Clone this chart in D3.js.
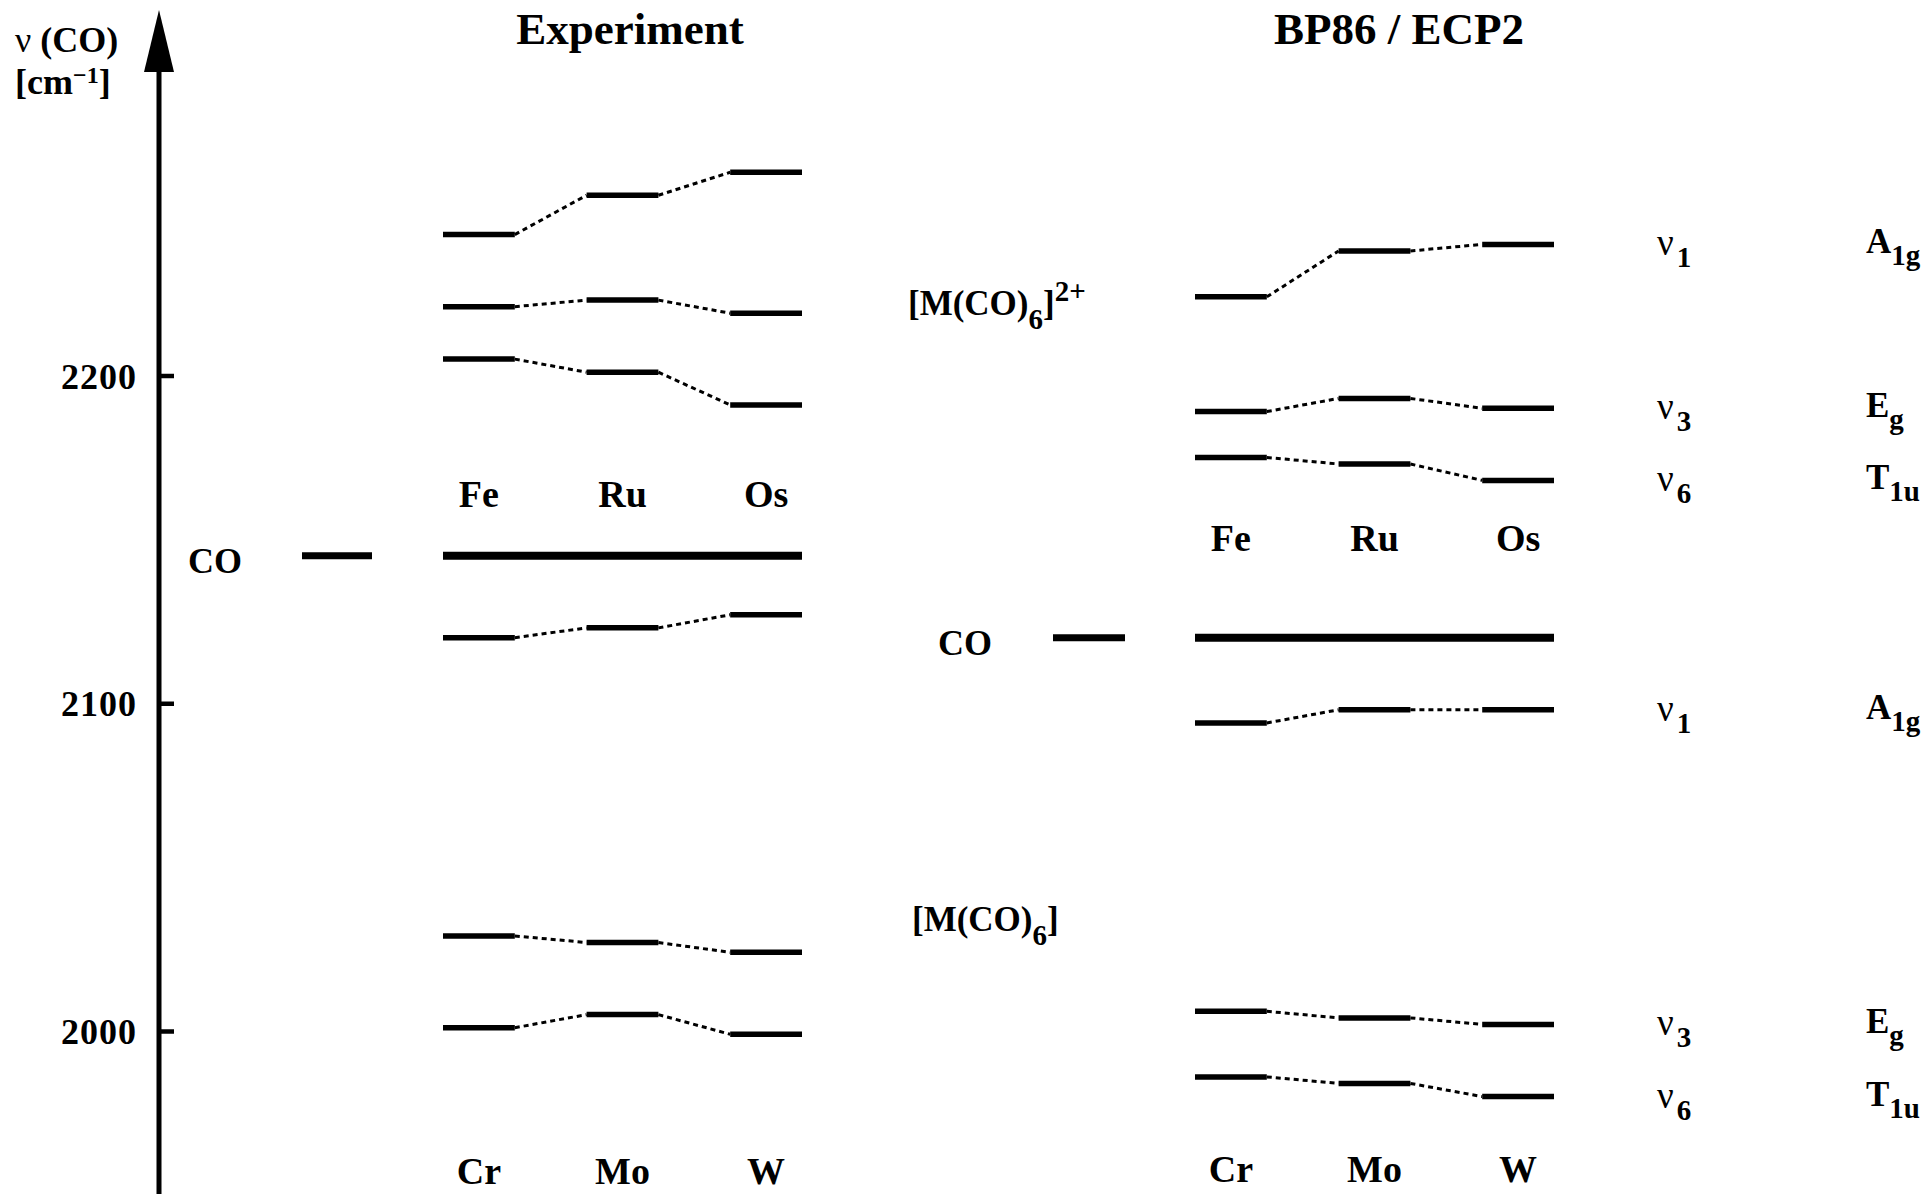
<!DOCTYPE html>
<meta charset="utf-8">
<style>
body { margin: 0; background: #fff; }
text { font-family: "Liberation Serif", "Times New Roman", serif; fill: #000; }
</style>
<body>
<script src="https://cdnjs.cloudflare.com/ajax/libs/d3/7.8.5/d3.min.js"></script>
<script>
// values, in cm^-1
var cations = ["Fe", "Ru", "Os"];
var neutrals = ["Cr", "Mo", "W"];
var modeNames = ["A1g", "Eg", "T1u"];
var nuIndex = ["1", "3", "6"];

var expCationA1g = [2243, 2255, 2262];
var expCationEg = [2221, 2223, 2219];
var expCationT1u = [2205, 2201, 2191];
var expNeutralA1g = [2120, 2123, 2127];
var expNeutralEg = [2029, 2027, 2024];
var expNeutralT1u = [2001, 2005, 1999];

var calcCationA1g = [2224, 2238, 2240];
var calcCationEg = [2189, 2193, 2190];
var calcCationT1u = [2175, 2173, 2168];
var calcNeutralA1g = [2094, 2098, 2098];
var calcNeutralEg = [2006, 2004, 2002];
var calcNeutralT1u = [1986, 1984, 1980];

var coExp = 2145;
var coCalc = 2120;
var yTicks = [2000, 2100, 2200];

var w = 1931, h = 1194;
var axisX = 159;

var svg = d3.select("body").append("svg")
	.attr("width", w)
	.attr("height", h);

var y = d3.scaleLinear().domain([2000, 2200]).range([1031, 375.5]);

var xExp = d3.scaleBand().domain([0, 1, 2]).range([443, 802]).paddingInner(0.5).paddingOuter(0);
var xCalc = d3.scaleBand().domain([0, 1, 2]).range([1195, 1554]).paddingInner(0.5).paddingOuter(0);

// the vertical axis with arrow
svg.append("line")
	.attr("x1", axisX).attr("x2", axisX)
	.attr("y1", h).attr("y2", 68)
	.attr("stroke", "#000").attr("stroke-width", 5);
svg.append("path")
	.attr("d", "M" + axisX + ",10 L" + (axisX - 15) + ",72 L" + (axisX + 15) + ",72 Z")
	.attr("fill", "#000");

var yAxis = d3.axisLeft(y)
	.tickValues(yTicks)
	.tickSize(-15)
	.tickPadding(22)
	.tickFormat(d3.format("d"));
var ga = svg.append("g")
	.attr("transform", "translate(" + axisX + ",0)")
	.call(yAxis);
ga.select(".domain").remove();
ga.selectAll(".tick line").attr("stroke", "#000").attr("stroke-width", 4.5);
ga.selectAll(".tick text")
	.attr("font-family", "Liberation Serif")
	.attr("font-weight", "bold")
	.attr("font-size", 36)
	.attr("dy", "0.35em")
	.attr("letter-spacing", 1);

// axis label
var al = svg.append("text").attr("x", 15).attr("y", 52).attr("font-size", 36);
al.append("tspan").text("\u03bd ");
al.append("tspan").attr("font-weight", "bold").text("(CO)");
var al2 = svg.append("text").attr("x", 15).attr("y", 94).attr("font-size", 36).attr("font-weight", "bold");
al2.append("tspan").text("[cm");
al2.append("tspan").attr("font-size", 24).attr("dy", -11).text("\u22121");
al2.append("tspan").attr("dy", 11).text("]");

// titles
svg.append("text").attr("x", 630).attr("y", 44).attr("text-anchor", "middle")
	.attr("font-size", 45).attr("font-weight", "bold").text("Experiment");
svg.append("text").attr("x", 1399).attr("y", 44).attr("text-anchor", "middle")
	.attr("font-size", 45).attr("font-weight", "bold").text("BP86 / ECP2");

function levelSet(x, values) {
	var g = svg.append("g");
	// dotted connectors
	for (var i = 0; i < values.length - 1; i++) {
		g.append("line")
			.attr("x1", x(i) + x.bandwidth()).attr("y1", y(values[i]))
			.attr("x2", x(i + 1)).attr("y2", y(values[i + 1]))
			.attr("stroke", "#000").attr("stroke-width", 3)
			.attr("stroke-dasharray", "5,4");
	}
	g.selectAll("line.level")
		.data(values)
		.enter().append("line")
		.attr("class", "level")
		.attr("x1", function(d, i) { return x(i); })
		.attr("x2", function(d, i) { return x(i) + x.bandwidth(); })
		.attr("y1", function(d) { return y(d); })
		.attr("y2", function(d) { return y(d); })
		.attr("stroke", "#000").attr("stroke-width", 5.5);
}

function coLine(x, v, x0, x1) {
	svg.append("line")
		.attr("x1", x.range()[0]).attr("x2", x.range()[1])
		.attr("y1", y(v)).attr("y2", y(v))
		.attr("stroke", "#000").attr("stroke-width", 8);
	svg.append("line")
		.attr("x1", x0).attr("x2", x1)
		.attr("y1", y(v)).attr("y2", y(v))
		.attr("stroke", "#000").attr("stroke-width", 7);
}

function catLabels(x, names, baseline) {
	svg.selectAll(null)
		.data(names)
		.enter().append("text")
		.attr("x", function(d, i) { return x(i) + x.bandwidth() / 2; })
		.attr("y", baseline)
		.attr("text-anchor", "middle")
		.attr("font-size", 38).attr("font-weight", "bold")
		.text(function(d) { return d; });
}

[expCationA1g, expCationEg, expCationT1u, expNeutralA1g, expNeutralEg, expNeutralT1u]
	.forEach(function(v) { levelSet(xExp, v); });
[calcCationA1g, calcCationEg, calcCationT1u, calcNeutralA1g, calcNeutralEg, calcNeutralT1u]
	.forEach(function(v) { levelSet(xCalc, v); });

coLine(xExp, coExp, 302, 372);
coLine(xCalc, coCalc, 1053, 1125);

catLabels(xExp, cations, 507);
catLabels(xExp, neutrals, 1184);
catLabels(xCalc, cations, 551);
catLabels(xCalc, neutrals, 1182);

// CO labels
svg.append("text").attr("x", 188).attr("y", y(coExp) + 17)
	.attr("font-size", 36).attr("font-weight", "bold").text("CO");
svg.append("text").attr("x", 938).attr("y", y(coCalc) + 17)
	.attr("font-size", 36).attr("font-weight", "bold").text("CO");

// complex labels
var c1 = svg.append("text").attr("x", 908).attr("y", 315).attr("font-size", 35).attr("font-weight", "bold");
c1.append("tspan").text("[M(CO)");
c1.append("tspan").attr("font-size", 29).attr("dy", 14).text("6");
c1.append("tspan").attr("dy", -14).text("]");
c1.append("tspan").attr("font-size", 29).attr("dy", -14).text("2+");
var c2 = svg.append("text").attr("x", 912).attr("y", 931).attr("font-size", 35).attr("font-weight", "bold");
c2.append("tspan").text("[M(CO)");
c2.append("tspan").attr("font-size", 29).attr("dy", 14).text("6");
c2.append("tspan").attr("dy", -14).text("]");

// mode labels on the right, next to the last calculated level
function modeLabels(sets) {
	sets.forEach(function(v, i) {
		var yy = y(v[v.length - 1]);
		var t = svg.append("text").attr("x", 1657).attr("y", yy + 11).attr("font-size", 37);
		t.append("tspan").text("\u03bd");
		t.append("tspan").attr("font-size", 29).attr("font-weight", "bold").attr("dx", 3).attr("dy", 12).text(nuIndex[i]);
		var m = modeNames[i];
		var s = svg.append("text").attr("x", 1866).attr("y", yy + 9).attr("font-size", 35).attr("font-weight", "bold");
		s.append("tspan").text(m.charAt(0));
		s.append("tspan").attr("font-size", 29).attr("dy", 12).text(m.slice(1));
	});
}
modeLabels([calcCationA1g, calcCationEg, calcCationT1u]);
modeLabels([calcNeutralA1g, calcNeutralEg, calcNeutralT1u]);
</script>
</body>
